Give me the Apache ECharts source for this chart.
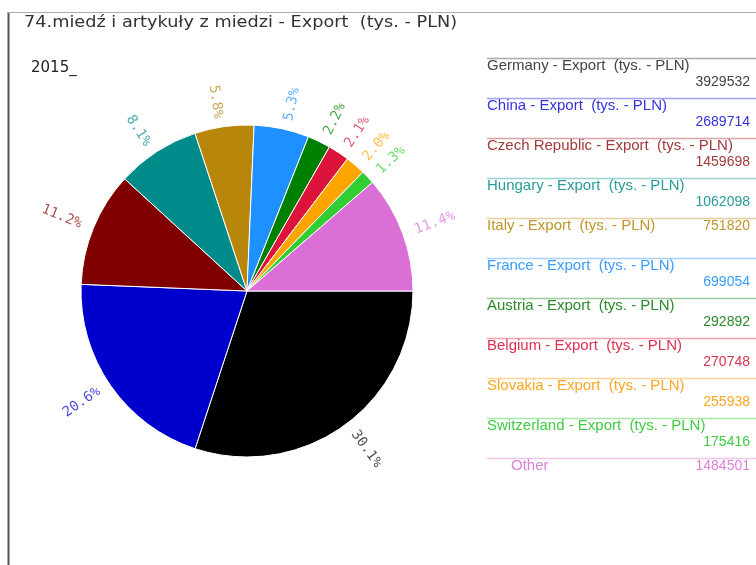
<!DOCTYPE html>
<html>
<head>
<meta charset="utf-8">
<script src="https://cdn.jsdelivr.net/npm/echarts@6/dist/echarts.min.js"></script>
<style>
  html, body { margin: 0; padding: 0; background: #fff; }
  #main { width: 756px; height: 565px; }
</style>
</head>
<body>
<div id="main"></div>
<script>
// data
var countries = ['Germany', 'China', 'Czech Republic', 'Hungary', 'Italy', 'France',
                 'Austria', 'Belgium', 'Slovakia', 'Switzerland', 'Other'];
var values = [3929532, 2689714, 1459698, 1062098, 751820, 699054,
              292892, 270748, 255938, 175416, 1484501];
var colors = ['#000000', '#0000cd', '#800000', '#008b8b', '#b8860b', '#1e90ff',
              '#008000', '#dc143c', '#ffa500', '#32cd32', '#da70d6'];
var legendColors = ['#444444', '#3333dd', '#a33a3a', '#2a9b9b', '#c0952a', '#3a9cff',
                    '#2a8a2a', '#e03050', '#ffa520', '#40cc40', '#dd80d8'];
var titleText = '74.miedź i artykuły z miedzi - Export  (tys. - PLN)';
var yearText = '2015_';
var suffix = ' - Export  (tys. - PLN)';

var dom = document.getElementById('main');
var myChart = echarts.init(dom);

var pieData = countries.map(function (c, i) {
    return {
        name: c,
        value: values[i],
        itemStyle: { color: colors[i] },
        label: { color: colors[i], opacity: 0.7 }
    };
});

// measuring, to know if the value fits on the name's row
var ctx = document.createElement('canvas').getContext('2d');
var nameFont = '15px "Liberation Sans", Arial, sans-serif';
var valFont = '14px "Liberation Sans", Arial, sans-serif';

var graphics = [
    { type: 'line', shape: { x1: 8.5, y1: 12, x2: 8.5, y2: 565 }, style: { stroke: '#555', lineWidth: 2 } },
    { type: 'line', shape: { x1: 8, y1: 12.5, x2: 756, y2: 12.5 }, style: { stroke: '#aaa', lineWidth: 1 } },
    { type: 'text', x: 24, y: 16, scaleX: 1.18,
      style: { text: titleText, font: '15px "DejaVu Sans"', fill: '#333', textVerticalAlign: 'top' } },
    { type: 'text', x: 31, y: 61, style: { text: yearText, font: '15px "DejaVu Sans"', fill: '#222', textVerticalAlign: 'top' } }
];
countries.forEach(function (c, i) {
    var y = 58 + 40 * i;
    var name = c === 'Other' ? c : c + suffix;
    var nx = c === 'Other' ? 511 : 487;
    var val = String(values[i]);
    ctx.font = nameFont;
    var nw = ctx.measureText(name).width;
    ctx.font = valFont;
    var vw = ctx.measureText(val).width;
    var wrap = (nx - 487) + nw + vw + 20 > 250;
    graphics.push({ type: 'line', shape: { x1: 487, y1: y + 0.5, x2: 756, y2: y + 0.5 },
        style: { stroke: legendColors[i], lineWidth: 1.5, opacity: 0.45 } });
    graphics.push({ type: 'text', x: nx, y: y + 0,
        style: { text: name, font: nameFont, fill: legendColors[i], textVerticalAlign: 'top' } });
    graphics.push({ type: 'text', x: 750, y: wrap ? y + 17 : y + 1,
        style: { text: val, font: valFont, fill: legendColors[i], textAlign: 'right', textVerticalAlign: 'top' } });
});

var option = {
    animation: false,
    graphic: graphics,
    series: [
        {
            type: 'pie',
            center: [247, 291],
            radius: 166,
            startAngle: 0,
            clockwise: true,
            avoidLabelOverlap: false,
            itemStyle: { borderColor: '#fff', borderWidth: 1 },
            label: {
                show: true,
                position: 'outside',
                rotate: 'radial',
                fontFamily: 'DejaVu Sans Mono',
                fontSize: 14,
                formatter: function (p) { return p.percent.toFixed(1) + '%'; }
            },
            labelLine: { show: false, length: 8, length2: 0 },
            emphasis: { disabled: true },
            data: pieData
        }
    ]
};

if (option && typeof option === 'object') {
    myChart.setOption(option, true);
}
</script>
</body>
</html>
